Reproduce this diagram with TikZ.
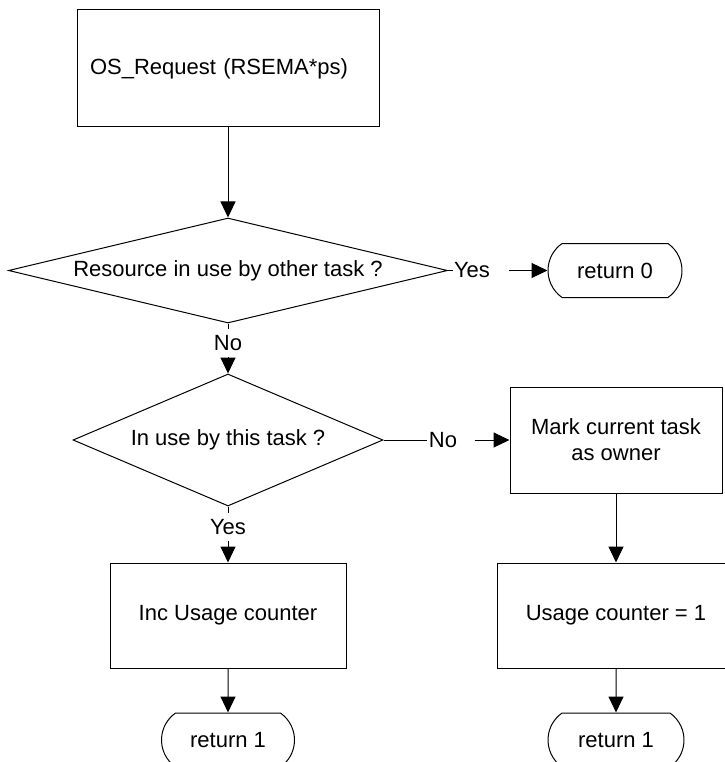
\documentclass[tikz,border=0pt]{standalone}
\usepackage{fontspec}
\setmainfont{Liberation Sans}
\usetikzlibrary{arrows.meta}
\usetikzlibrary{shapes.geometric}
\usetikzlibrary{shapes.misc}

\begin{document}
\begin{tikzpicture}[->,>={Triangle[length=16pt,width=15pt]},line width=1pt,x=1pt,y=-1pt,
	proc node/.style={draw,rectangle,minimum height=105pt,inner sep=0pt,align=center,font=\fontsize{22}{26}\selectfont},
	test node/.style={draw,diamond,inner sep=0pt,font=\fontsize{22}{26}\selectfont},
	stop node/.style={draw,rounded rectangle,rounded rectangle arc length=110,minimum width=134pt,minimum height=54pt,inner sep=0pt,font=\fontsize{22}{26}\selectfont},
	word node/.style={inner xsep=1pt,inner ysep=6pt,font=\fontsize{22}{26}\selectfont}]
	
	\useasboundingbox (0,0) rectangle (724,762);
	
	\node[proc node,minimum height=117pt,text width=276pt,inner xsep=13pt,align=left] (start) at (228,68.5) {OS\_Request (RSEMA*ps)};
	\node[test node,aspect=4.18,minimum width=439pt,minimum height=105pt] (dia1) [below of=start,node distance=202pt] {Resource in use by other task ?};
	\node[word node] (yes1) [right of=dia1,node distance=244pt] {Yes};
	\node[stop node] (ret0) [right of=dia1,node distance=387pt] {return 0};
	\node[word node] (no1) [below of=dia1,node distance=72.5pt] {No};
	\node[test node,aspect=2.35,minimum width=310pt,minimum height=132pt] (dia2) [below of=dia1,node distance=169.5pt] {In use by this task ?};
	\node[word node] (no2) [right of=dia2,node distance=215pt] {No};
	\node[proc node,minimum width=212pt,minimum height=106pt] (mark) [right of=dia2,node distance=388pt] {Mark current task\\as owner};
	\node[word node] (yes2) [below of=dia2,node distance=87pt] {Yes};
	\node[proc node,minimum width=236pt] (inc) [below of=dia2,node distance=175.5pt] {Inc Usage counter};
	\node[proc node,minimum width=238pt] (usage) [below of=mark,node distance=175.5pt] {Usage counter = 1};
	\node[stop node,minimum width=133pt] (ret1a) [below of=inc,node distance=124.5pt] {return 1};
	\node[stop node,minimum width=136pt] (ret1b) [below of=usage,node distance=124.5pt] {return 1};
	
	\path
	(start) edge (dia1)
	(dia1) edge[-] (yes1)
	(yes1) edge[shorten <=18pt] (ret0)
	(dia1) edge[-] (no1)
	(no1) edge (dia2)
	(dia2) edge[-] (no2)
	(no2) edge[shorten <=16pt] (mark)
	(dia2) edge[-] (yes2)
	(yes2) edge (inc)
	(inc) edge (ret1a)
	(mark) edge (usage)
	(usage) edge (ret1b)
	;
\end{tikzpicture}
\end{document}
